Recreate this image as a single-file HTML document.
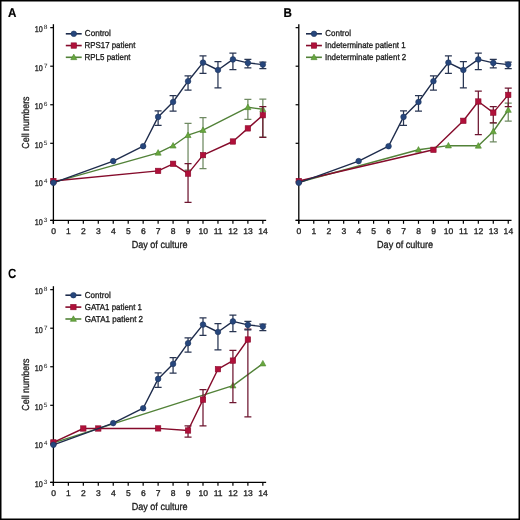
<!DOCTYPE html><html><head><meta charset="utf-8"><style>html,body{margin:0;padding:0;background:#fff}svg{display:block;text-rendering:geometricPrecision;will-change:transform}text:not([font-weight]){stroke:#1a1a1a;stroke-width:0.3px}</style></head><body>
<svg width="520" height="520" viewBox="0 0 520 520">
<rect x="0" y="0" width="520" height="520" fill="#fff"/>
<text x="7.90" y="16.70" font-size="12.6" font-weight="bold" textLength="8.41" lengthAdjust="spacingAndGlyphs" fill="#000" font-family="Liberation Sans, sans-serif" stroke="#000" stroke-width="0.2">A</text>
<text x="283.43" y="16.60" font-size="12.6" font-weight="bold" textLength="8.41" lengthAdjust="spacingAndGlyphs" fill="#000" font-family="Liberation Sans, sans-serif" stroke="#000" stroke-width="0.2">B</text>
<text x="7.92" y="277.60" font-size="13.4" font-weight="bold" textLength="8.31" lengthAdjust="spacingAndGlyphs" fill="#000" font-family="Liberation Sans, sans-serif">C</text>
<path d="M53.40 24.20V223.80" stroke="#000" stroke-width="1.3"/>
<path d="M50.20 220.40H266.14" stroke="#000" stroke-width="1.3"/>
<path d="M50.20 220.40H53.40" stroke="#000" stroke-width="1.2"/>
<text x="34.75" y="224.91" font-size="8.4" textLength="8.02" lengthAdjust="spacingAndGlyphs" fill="#1a1a1a" font-family="Liberation Sans, sans-serif">10</text>
<text x="43.85" y="221.82" font-size="6.2" textLength="3.64" lengthAdjust="spacingAndGlyphs" fill="#1a1a1a" font-family="Liberation Sans, sans-serif" style="stroke:none">3</text>
<path d="M50.20 181.85H53.40" stroke="#000" stroke-width="1.2"/>
<text x="34.75" y="186.36" font-size="8.4" textLength="8.02" lengthAdjust="spacingAndGlyphs" fill="#1a1a1a" font-family="Liberation Sans, sans-serif">10</text>
<text x="43.96" y="183.27" font-size="6.2" textLength="3.42" lengthAdjust="spacingAndGlyphs" fill="#1a1a1a" font-family="Liberation Sans, sans-serif" style="stroke:none">4</text>
<path d="M50.20 143.30H53.40" stroke="#000" stroke-width="1.2"/>
<text x="34.75" y="147.81" font-size="8.4" textLength="8.02" lengthAdjust="spacingAndGlyphs" fill="#1a1a1a" font-family="Liberation Sans, sans-serif">10</text>
<text x="43.84" y="144.72" font-size="6.2" textLength="3.64" lengthAdjust="spacingAndGlyphs" fill="#1a1a1a" font-family="Liberation Sans, sans-serif" style="stroke:none">5</text>
<path d="M50.20 104.75H53.40" stroke="#000" stroke-width="1.2"/>
<text x="34.75" y="109.26" font-size="8.4" textLength="8.02" lengthAdjust="spacingAndGlyphs" fill="#1a1a1a" font-family="Liberation Sans, sans-serif">10</text>
<text x="43.76" y="106.17" font-size="6.2" textLength="3.73" lengthAdjust="spacingAndGlyphs" fill="#1a1a1a" font-family="Liberation Sans, sans-serif" style="stroke:none">6</text>
<path d="M50.20 66.20H53.40" stroke="#000" stroke-width="1.2"/>
<text x="34.75" y="70.71" font-size="8.4" textLength="8.02" lengthAdjust="spacingAndGlyphs" fill="#1a1a1a" font-family="Liberation Sans, sans-serif">10</text>
<text x="43.74" y="67.62" font-size="6.2" textLength="3.80" lengthAdjust="spacingAndGlyphs" fill="#1a1a1a" font-family="Liberation Sans, sans-serif" style="stroke:none">7</text>
<path d="M50.20 27.65H53.40" stroke="#000" stroke-width="1.2"/>
<text x="34.75" y="32.16" font-size="8.4" textLength="8.02" lengthAdjust="spacingAndGlyphs" fill="#1a1a1a" font-family="Liberation Sans, sans-serif">10</text>
<text x="43.81" y="29.07" font-size="6.2" textLength="3.68" lengthAdjust="spacingAndGlyphs" fill="#1a1a1a" font-family="Liberation Sans, sans-serif" style="stroke:none">8</text>
<text x="51.17" y="234.07" font-size="8.3" textLength="4.75" lengthAdjust="spacingAndGlyphs" fill="#1a1a1a" font-family="Liberation Sans, sans-serif">0</text>
<path d="M53.40 220.40V223.80" stroke="#000" stroke-width="1.2"/>
<text x="66.13" y="234.07" font-size="8.3" textLength="4.75" lengthAdjust="spacingAndGlyphs" fill="#1a1a1a" font-family="Liberation Sans, sans-serif">1</text>
<path d="M68.36 220.40V223.80" stroke="#000" stroke-width="1.2"/>
<text x="81.09" y="234.07" font-size="8.3" textLength="4.75" lengthAdjust="spacingAndGlyphs" fill="#1a1a1a" font-family="Liberation Sans, sans-serif">2</text>
<path d="M83.32 220.40V223.80" stroke="#000" stroke-width="1.2"/>
<text x="96.05" y="234.07" font-size="8.3" textLength="4.75" lengthAdjust="spacingAndGlyphs" fill="#1a1a1a" font-family="Liberation Sans, sans-serif">3</text>
<path d="M98.28 220.40V223.80" stroke="#000" stroke-width="1.2"/>
<text x="111.01" y="234.07" font-size="8.3" textLength="4.75" lengthAdjust="spacingAndGlyphs" fill="#1a1a1a" font-family="Liberation Sans, sans-serif">4</text>
<path d="M113.24 220.40V223.80" stroke="#000" stroke-width="1.2"/>
<text x="125.97" y="234.07" font-size="8.3" textLength="4.75" lengthAdjust="spacingAndGlyphs" fill="#1a1a1a" font-family="Liberation Sans, sans-serif">5</text>
<path d="M128.20 220.40V223.80" stroke="#000" stroke-width="1.2"/>
<text x="140.93" y="234.07" font-size="8.3" textLength="4.75" lengthAdjust="spacingAndGlyphs" fill="#1a1a1a" font-family="Liberation Sans, sans-serif">6</text>
<path d="M143.16 220.40V223.80" stroke="#000" stroke-width="1.2"/>
<text x="155.89" y="234.07" font-size="8.3" textLength="4.75" lengthAdjust="spacingAndGlyphs" fill="#1a1a1a" font-family="Liberation Sans, sans-serif">7</text>
<path d="M158.12 220.40V223.80" stroke="#000" stroke-width="1.2"/>
<text x="170.85" y="234.07" font-size="8.3" textLength="4.75" lengthAdjust="spacingAndGlyphs" fill="#1a1a1a" font-family="Liberation Sans, sans-serif">8</text>
<path d="M173.08 220.40V223.80" stroke="#000" stroke-width="1.2"/>
<text x="185.81" y="234.07" font-size="8.3" textLength="4.75" lengthAdjust="spacingAndGlyphs" fill="#1a1a1a" font-family="Liberation Sans, sans-serif">9</text>
<path d="M188.04 220.40V223.80" stroke="#000" stroke-width="1.2"/>
<text x="198.40" y="234.07" font-size="8.3" textLength="9.51" lengthAdjust="spacingAndGlyphs" fill="#1a1a1a" font-family="Liberation Sans, sans-serif">10</text>
<path d="M203.00 220.40V223.80" stroke="#000" stroke-width="1.2"/>
<text x="213.67" y="234.07" font-size="8.3" textLength="8.87" lengthAdjust="spacingAndGlyphs" fill="#1a1a1a" font-family="Liberation Sans, sans-serif">11</text>
<path d="M217.96 220.40V223.80" stroke="#000" stroke-width="1.2"/>
<text x="228.32" y="234.07" font-size="8.3" textLength="9.51" lengthAdjust="spacingAndGlyphs" fill="#1a1a1a" font-family="Liberation Sans, sans-serif">12</text>
<path d="M232.92 220.40V223.80" stroke="#000" stroke-width="1.2"/>
<text x="243.28" y="234.07" font-size="8.3" textLength="9.51" lengthAdjust="spacingAndGlyphs" fill="#1a1a1a" font-family="Liberation Sans, sans-serif">13</text>
<path d="M247.88 220.40V223.80" stroke="#000" stroke-width="1.2"/>
<text x="258.24" y="234.07" font-size="8.3" textLength="9.51" lengthAdjust="spacingAndGlyphs" fill="#1a1a1a" font-family="Liberation Sans, sans-serif">14</text>
<path d="M262.84 220.40V223.80" stroke="#000" stroke-width="1.2"/>
<text x="131.66" y="248.40" font-size="10.2" textLength="55.94" lengthAdjust="spacingAndGlyphs" fill="#1a1a1a" font-family="Liberation Sans, sans-serif">Day of culture</text>
<text transform="translate(29.3,148.20) rotate(-90)" x="-0.44" y="0" font-size="10.2" textLength="52.15" lengthAdjust="spacingAndGlyphs" fill="#1a1a1a" font-family="Liberation Sans, sans-serif">Cell numbers</text>
<path d="M298.80 24.20V223.80" stroke="#000" stroke-width="1.3"/>
<path d="M295.60 220.40H511.54" stroke="#000" stroke-width="1.3"/>
<path d="M295.60 220.40H298.80" stroke="#000" stroke-width="1.2"/>
<path d="M295.60 181.85H298.80" stroke="#000" stroke-width="1.2"/>
<path d="M295.60 143.30H298.80" stroke="#000" stroke-width="1.2"/>
<path d="M295.60 104.75H298.80" stroke="#000" stroke-width="1.2"/>
<path d="M295.60 66.20H298.80" stroke="#000" stroke-width="1.2"/>
<path d="M295.60 27.65H298.80" stroke="#000" stroke-width="1.2"/>
<text x="296.57" y="234.07" font-size="8.3" textLength="4.75" lengthAdjust="spacingAndGlyphs" fill="#1a1a1a" font-family="Liberation Sans, sans-serif">0</text>
<path d="M298.80 220.40V223.80" stroke="#000" stroke-width="1.2"/>
<text x="311.53" y="234.07" font-size="8.3" textLength="4.75" lengthAdjust="spacingAndGlyphs" fill="#1a1a1a" font-family="Liberation Sans, sans-serif">1</text>
<path d="M313.76 220.40V223.80" stroke="#000" stroke-width="1.2"/>
<text x="326.49" y="234.07" font-size="8.3" textLength="4.75" lengthAdjust="spacingAndGlyphs" fill="#1a1a1a" font-family="Liberation Sans, sans-serif">2</text>
<path d="M328.72 220.40V223.80" stroke="#000" stroke-width="1.2"/>
<text x="341.45" y="234.07" font-size="8.3" textLength="4.75" lengthAdjust="spacingAndGlyphs" fill="#1a1a1a" font-family="Liberation Sans, sans-serif">3</text>
<path d="M343.68 220.40V223.80" stroke="#000" stroke-width="1.2"/>
<text x="356.41" y="234.07" font-size="8.3" textLength="4.75" lengthAdjust="spacingAndGlyphs" fill="#1a1a1a" font-family="Liberation Sans, sans-serif">4</text>
<path d="M358.64 220.40V223.80" stroke="#000" stroke-width="1.2"/>
<text x="371.37" y="234.07" font-size="8.3" textLength="4.75" lengthAdjust="spacingAndGlyphs" fill="#1a1a1a" font-family="Liberation Sans, sans-serif">5</text>
<path d="M373.60 220.40V223.80" stroke="#000" stroke-width="1.2"/>
<text x="386.33" y="234.07" font-size="8.3" textLength="4.75" lengthAdjust="spacingAndGlyphs" fill="#1a1a1a" font-family="Liberation Sans, sans-serif">6</text>
<path d="M388.56 220.40V223.80" stroke="#000" stroke-width="1.2"/>
<text x="401.29" y="234.07" font-size="8.3" textLength="4.75" lengthAdjust="spacingAndGlyphs" fill="#1a1a1a" font-family="Liberation Sans, sans-serif">7</text>
<path d="M403.52 220.40V223.80" stroke="#000" stroke-width="1.2"/>
<text x="416.25" y="234.07" font-size="8.3" textLength="4.75" lengthAdjust="spacingAndGlyphs" fill="#1a1a1a" font-family="Liberation Sans, sans-serif">8</text>
<path d="M418.48 220.40V223.80" stroke="#000" stroke-width="1.2"/>
<text x="431.21" y="234.07" font-size="8.3" textLength="4.75" lengthAdjust="spacingAndGlyphs" fill="#1a1a1a" font-family="Liberation Sans, sans-serif">9</text>
<path d="M433.44 220.40V223.80" stroke="#000" stroke-width="1.2"/>
<text x="443.80" y="234.07" font-size="8.3" textLength="9.51" lengthAdjust="spacingAndGlyphs" fill="#1a1a1a" font-family="Liberation Sans, sans-serif">10</text>
<path d="M448.40 220.40V223.80" stroke="#000" stroke-width="1.2"/>
<text x="459.07" y="234.07" font-size="8.3" textLength="8.87" lengthAdjust="spacingAndGlyphs" fill="#1a1a1a" font-family="Liberation Sans, sans-serif">11</text>
<path d="M463.36 220.40V223.80" stroke="#000" stroke-width="1.2"/>
<text x="473.72" y="234.07" font-size="8.3" textLength="9.51" lengthAdjust="spacingAndGlyphs" fill="#1a1a1a" font-family="Liberation Sans, sans-serif">12</text>
<path d="M478.32 220.40V223.80" stroke="#000" stroke-width="1.2"/>
<text x="488.68" y="234.07" font-size="8.3" textLength="9.51" lengthAdjust="spacingAndGlyphs" fill="#1a1a1a" font-family="Liberation Sans, sans-serif">13</text>
<path d="M493.28 220.40V223.80" stroke="#000" stroke-width="1.2"/>
<text x="503.64" y="234.07" font-size="8.3" textLength="9.51" lengthAdjust="spacingAndGlyphs" fill="#1a1a1a" font-family="Liberation Sans, sans-serif">14</text>
<path d="M508.24 220.40V223.80" stroke="#000" stroke-width="1.2"/>
<text x="377.06" y="248.40" font-size="10.2" textLength="55.94" lengthAdjust="spacingAndGlyphs" fill="#1a1a1a" font-family="Liberation Sans, sans-serif">Day of culture</text>
<path d="M53.40 286.20V485.80" stroke="#000" stroke-width="1.3"/>
<path d="M50.20 482.40H266.14" stroke="#000" stroke-width="1.3"/>
<path d="M50.20 482.40H53.40" stroke="#000" stroke-width="1.2"/>
<text x="34.75" y="486.91" font-size="8.4" textLength="8.02" lengthAdjust="spacingAndGlyphs" fill="#1a1a1a" font-family="Liberation Sans, sans-serif">10</text>
<text x="43.85" y="483.82" font-size="6.2" textLength="3.64" lengthAdjust="spacingAndGlyphs" fill="#1a1a1a" font-family="Liberation Sans, sans-serif" style="stroke:none">3</text>
<path d="M50.20 443.85H53.40" stroke="#000" stroke-width="1.2"/>
<text x="34.75" y="448.36" font-size="8.4" textLength="8.02" lengthAdjust="spacingAndGlyphs" fill="#1a1a1a" font-family="Liberation Sans, sans-serif">10</text>
<text x="43.96" y="445.27" font-size="6.2" textLength="3.42" lengthAdjust="spacingAndGlyphs" fill="#1a1a1a" font-family="Liberation Sans, sans-serif" style="stroke:none">4</text>
<path d="M50.20 405.30H53.40" stroke="#000" stroke-width="1.2"/>
<text x="34.75" y="409.81" font-size="8.4" textLength="8.02" lengthAdjust="spacingAndGlyphs" fill="#1a1a1a" font-family="Liberation Sans, sans-serif">10</text>
<text x="43.84" y="406.72" font-size="6.2" textLength="3.64" lengthAdjust="spacingAndGlyphs" fill="#1a1a1a" font-family="Liberation Sans, sans-serif" style="stroke:none">5</text>
<path d="M50.20 366.75H53.40" stroke="#000" stroke-width="1.2"/>
<text x="34.75" y="371.26" font-size="8.4" textLength="8.02" lengthAdjust="spacingAndGlyphs" fill="#1a1a1a" font-family="Liberation Sans, sans-serif">10</text>
<text x="43.76" y="368.17" font-size="6.2" textLength="3.73" lengthAdjust="spacingAndGlyphs" fill="#1a1a1a" font-family="Liberation Sans, sans-serif" style="stroke:none">6</text>
<path d="M50.20 328.20H53.40" stroke="#000" stroke-width="1.2"/>
<text x="34.75" y="332.71" font-size="8.4" textLength="8.02" lengthAdjust="spacingAndGlyphs" fill="#1a1a1a" font-family="Liberation Sans, sans-serif">10</text>
<text x="43.74" y="329.62" font-size="6.2" textLength="3.80" lengthAdjust="spacingAndGlyphs" fill="#1a1a1a" font-family="Liberation Sans, sans-serif" style="stroke:none">7</text>
<path d="M50.20 289.65H53.40" stroke="#000" stroke-width="1.2"/>
<text x="34.75" y="294.16" font-size="8.4" textLength="8.02" lengthAdjust="spacingAndGlyphs" fill="#1a1a1a" font-family="Liberation Sans, sans-serif">10</text>
<text x="43.81" y="291.07" font-size="6.2" textLength="3.68" lengthAdjust="spacingAndGlyphs" fill="#1a1a1a" font-family="Liberation Sans, sans-serif" style="stroke:none">8</text>
<text x="51.17" y="496.07" font-size="8.3" textLength="4.75" lengthAdjust="spacingAndGlyphs" fill="#1a1a1a" font-family="Liberation Sans, sans-serif">0</text>
<path d="M53.40 482.40V485.80" stroke="#000" stroke-width="1.2"/>
<text x="66.13" y="496.07" font-size="8.3" textLength="4.75" lengthAdjust="spacingAndGlyphs" fill="#1a1a1a" font-family="Liberation Sans, sans-serif">1</text>
<path d="M68.36 482.40V485.80" stroke="#000" stroke-width="1.2"/>
<text x="81.09" y="496.07" font-size="8.3" textLength="4.75" lengthAdjust="spacingAndGlyphs" fill="#1a1a1a" font-family="Liberation Sans, sans-serif">2</text>
<path d="M83.32 482.40V485.80" stroke="#000" stroke-width="1.2"/>
<text x="96.05" y="496.07" font-size="8.3" textLength="4.75" lengthAdjust="spacingAndGlyphs" fill="#1a1a1a" font-family="Liberation Sans, sans-serif">3</text>
<path d="M98.28 482.40V485.80" stroke="#000" stroke-width="1.2"/>
<text x="111.01" y="496.07" font-size="8.3" textLength="4.75" lengthAdjust="spacingAndGlyphs" fill="#1a1a1a" font-family="Liberation Sans, sans-serif">4</text>
<path d="M113.24 482.40V485.80" stroke="#000" stroke-width="1.2"/>
<text x="125.97" y="496.07" font-size="8.3" textLength="4.75" lengthAdjust="spacingAndGlyphs" fill="#1a1a1a" font-family="Liberation Sans, sans-serif">5</text>
<path d="M128.20 482.40V485.80" stroke="#000" stroke-width="1.2"/>
<text x="140.93" y="496.07" font-size="8.3" textLength="4.75" lengthAdjust="spacingAndGlyphs" fill="#1a1a1a" font-family="Liberation Sans, sans-serif">6</text>
<path d="M143.16 482.40V485.80" stroke="#000" stroke-width="1.2"/>
<text x="155.89" y="496.07" font-size="8.3" textLength="4.75" lengthAdjust="spacingAndGlyphs" fill="#1a1a1a" font-family="Liberation Sans, sans-serif">7</text>
<path d="M158.12 482.40V485.80" stroke="#000" stroke-width="1.2"/>
<text x="170.85" y="496.07" font-size="8.3" textLength="4.75" lengthAdjust="spacingAndGlyphs" fill="#1a1a1a" font-family="Liberation Sans, sans-serif">8</text>
<path d="M173.08 482.40V485.80" stroke="#000" stroke-width="1.2"/>
<text x="185.81" y="496.07" font-size="8.3" textLength="4.75" lengthAdjust="spacingAndGlyphs" fill="#1a1a1a" font-family="Liberation Sans, sans-serif">9</text>
<path d="M188.04 482.40V485.80" stroke="#000" stroke-width="1.2"/>
<text x="198.40" y="496.07" font-size="8.3" textLength="9.51" lengthAdjust="spacingAndGlyphs" fill="#1a1a1a" font-family="Liberation Sans, sans-serif">10</text>
<path d="M203.00 482.40V485.80" stroke="#000" stroke-width="1.2"/>
<text x="213.67" y="496.07" font-size="8.3" textLength="8.87" lengthAdjust="spacingAndGlyphs" fill="#1a1a1a" font-family="Liberation Sans, sans-serif">11</text>
<path d="M217.96 482.40V485.80" stroke="#000" stroke-width="1.2"/>
<text x="228.32" y="496.07" font-size="8.3" textLength="9.51" lengthAdjust="spacingAndGlyphs" fill="#1a1a1a" font-family="Liberation Sans, sans-serif">12</text>
<path d="M232.92 482.40V485.80" stroke="#000" stroke-width="1.2"/>
<text x="243.28" y="496.07" font-size="8.3" textLength="9.51" lengthAdjust="spacingAndGlyphs" fill="#1a1a1a" font-family="Liberation Sans, sans-serif">13</text>
<path d="M247.88 482.40V485.80" stroke="#000" stroke-width="1.2"/>
<text x="258.24" y="496.07" font-size="8.3" textLength="9.51" lengthAdjust="spacingAndGlyphs" fill="#1a1a1a" font-family="Liberation Sans, sans-serif">14</text>
<path d="M262.84 482.40V485.80" stroke="#000" stroke-width="1.2"/>
<text x="131.66" y="510.40" font-size="10.2" textLength="55.94" lengthAdjust="spacingAndGlyphs" fill="#1a1a1a" font-family="Liberation Sans, sans-serif">Day of culture</text>
<text transform="translate(29.3,410.20) rotate(-90)" x="-0.44" y="0" font-size="10.2" textLength="52.15" lengthAdjust="spacingAndGlyphs" fill="#1a1a1a" font-family="Liberation Sans, sans-serif">Cell numbers</text>
<path d="M65.80 33.80h15.9" stroke="#1e2c4c" stroke-width="1.6"/>
<circle cx="73.80" cy="33.80" r="2.8" fill="#26467c" stroke="#1f3560" stroke-width="0.6"/>
<text x="84.79" y="36.38" font-size="8.6" textLength="26.14" lengthAdjust="spacingAndGlyphs" fill="#1a1a1a" font-family="Liberation Sans, sans-serif">Control</text>
<path d="M65.80 45.55h15.9" stroke="#850b2b" stroke-width="1.6"/>
<rect x="71.10" y="42.85" width="5.4" height="5.4" fill="#b0103a" stroke="#8a0a2c" stroke-width="0.6"/>
<text x="84.55" y="48.13" font-size="8.6" textLength="50.82" lengthAdjust="spacingAndGlyphs" fill="#1a1a1a" font-family="Liberation Sans, sans-serif">RPS17 patient</text>
<path d="M65.80 57.30h15.9" stroke="#528238" stroke-width="1.6"/>
<path d="M73.80 54.10L76.85 59.65L70.75 59.65Z" fill="#68a63e" stroke="#4f8a30" stroke-width="0.6" stroke-linejoin="miter"/>
<text x="84.55" y="59.88" font-size="8.6" textLength="46.01" lengthAdjust="spacingAndGlyphs" fill="#1a1a1a" font-family="Liberation Sans, sans-serif">RPL5 patient</text>
<path d="M306.00 33.80h15.9" stroke="#1e2c4c" stroke-width="1.6"/>
<circle cx="314.00" cy="33.80" r="2.8" fill="#26467c" stroke="#1f3560" stroke-width="0.6"/>
<text x="325.30" y="36.38" font-size="8.6" textLength="25.62" lengthAdjust="spacingAndGlyphs" fill="#1a1a1a" font-family="Liberation Sans, sans-serif">Control</text>
<path d="M306.00 45.55h15.9" stroke="#850b2b" stroke-width="1.6"/>
<rect x="311.30" y="42.85" width="5.4" height="5.4" fill="#b0103a" stroke="#8a0a2c" stroke-width="0.6"/>
<text x="324.97" y="48.13" font-size="8.6" textLength="80.61" lengthAdjust="spacingAndGlyphs" fill="#1a1a1a" font-family="Liberation Sans, sans-serif">Indeterminate patient 1</text>
<path d="M306.00 57.30h15.9" stroke="#528238" stroke-width="1.6"/>
<path d="M314.00 54.10L317.05 59.65L310.95 59.65Z" fill="#68a63e" stroke="#4f8a30" stroke-width="0.6" stroke-linejoin="miter"/>
<text x="324.97" y="59.88" font-size="8.6" textLength="81.24" lengthAdjust="spacingAndGlyphs" fill="#1a1a1a" font-family="Liberation Sans, sans-serif">Indeterminate patient 2</text>
<path d="M65.40 295.20h15.9" stroke="#1e2c4c" stroke-width="1.6"/>
<circle cx="73.40" cy="295.20" r="2.8" fill="#26467c" stroke="#1f3560" stroke-width="0.6"/>
<text x="84.80" y="297.78" font-size="8.6" textLength="25.93" lengthAdjust="spacingAndGlyphs" fill="#1a1a1a" font-family="Liberation Sans, sans-serif">Control</text>
<path d="M65.40 307.10h15.9" stroke="#850b2b" stroke-width="1.6"/>
<rect x="70.70" y="304.40" width="5.4" height="5.4" fill="#b0103a" stroke="#8a0a2c" stroke-width="0.6"/>
<text x="84.81" y="309.68" font-size="8.6" textLength="57.18" lengthAdjust="spacingAndGlyphs" fill="#1a1a1a" font-family="Liberation Sans, sans-serif">GATA1 patient 1</text>
<path d="M65.40 319.00h15.9" stroke="#528238" stroke-width="1.6"/>
<path d="M73.40 315.80L76.45 321.35L70.35 321.35Z" fill="#68a63e" stroke="#4f8a30" stroke-width="0.6" stroke-linejoin="miter"/>
<text x="84.80" y="321.58" font-size="8.6" textLength="58.31" lengthAdjust="spacingAndGlyphs" fill="#1a1a1a" font-family="Liberation Sans, sans-serif">GATA1 patient 2</text>
<path d="M188.04 123.40V170.00M184.54 123.40h7M184.54 170.00h7" stroke="#6f8a62" stroke-width="1.25" fill="none"/>
<path d="M203.00 117.60V168.70M199.50 117.60h7M199.50 168.70h7" stroke="#6f8a62" stroke-width="1.25" fill="none"/>
<path d="M247.88 99.30V119.40M244.38 99.30h7M244.38 119.40h7" stroke="#6f8a62" stroke-width="1.25" fill="none"/>
<path d="M262.84 99.00V137.00M259.34 99.00h7M259.34 137.00h7" stroke="#6f8a62" stroke-width="1.25" fill="none"/>
<polyline points="53.40,182.30 158.12,152.80 173.08,145.70 188.04,135.20 203.00,130.10 247.88,107.30 262.84,109.30" fill="none" stroke="#528238" stroke-width="1.4" stroke-linejoin="round"/>
<path d="M158.12 149.60L161.17 155.15L155.07 155.15Z" fill="#68a63e" stroke="#4f8a30" stroke-width="0.6" stroke-linejoin="miter"/>
<path d="M173.08 142.50L176.13 148.05L170.03 148.05Z" fill="#68a63e" stroke="#4f8a30" stroke-width="0.6" stroke-linejoin="miter"/>
<path d="M188.04 132.00L191.09 137.55L184.99 137.55Z" fill="#68a63e" stroke="#4f8a30" stroke-width="0.6" stroke-linejoin="miter"/>
<path d="M203.00 126.90L206.05 132.45L199.95 132.45Z" fill="#68a63e" stroke="#4f8a30" stroke-width="0.6" stroke-linejoin="miter"/>
<path d="M247.88 104.10L250.93 109.65L244.83 109.65Z" fill="#68a63e" stroke="#4f8a30" stroke-width="0.6" stroke-linejoin="miter"/>
<path d="M262.84 106.10L265.89 111.65L259.79 111.65Z" fill="#68a63e" stroke="#4f8a30" stroke-width="0.6" stroke-linejoin="miter"/>
<path d="M188.04 163.50V202.30M184.54 163.50h7M184.54 202.30h7" stroke="#6e1630" stroke-width="1.25" fill="none"/>
<path d="M262.84 106.60V137.30M259.34 106.60h7M259.34 137.30h7" stroke="#6e1630" stroke-width="1.25" fill="none"/>
<polyline points="53.40,181.00 158.12,170.90 173.08,163.80 188.04,173.60 203.00,155.10 232.92,141.50 247.88,128.40 262.84,115.20" fill="none" stroke="#850b2b" stroke-width="1.4" stroke-linejoin="round"/>
<rect x="50.70" y="178.30" width="5.4" height="5.4" fill="#b0103a" stroke="#8a0a2c" stroke-width="0.6"/>
<rect x="155.42" y="168.20" width="5.4" height="5.4" fill="#b0103a" stroke="#8a0a2c" stroke-width="0.6"/>
<rect x="170.38" y="161.10" width="5.4" height="5.4" fill="#b0103a" stroke="#8a0a2c" stroke-width="0.6"/>
<rect x="185.34" y="170.90" width="5.4" height="5.4" fill="#b0103a" stroke="#8a0a2c" stroke-width="0.6"/>
<rect x="200.30" y="152.40" width="5.4" height="5.4" fill="#b0103a" stroke="#8a0a2c" stroke-width="0.6"/>
<rect x="230.22" y="138.80" width="5.4" height="5.4" fill="#b0103a" stroke="#8a0a2c" stroke-width="0.6"/>
<rect x="245.18" y="125.70" width="5.4" height="5.4" fill="#b0103a" stroke="#8a0a2c" stroke-width="0.6"/>
<rect x="260.14" y="112.50" width="5.4" height="5.4" fill="#b0103a" stroke="#8a0a2c" stroke-width="0.6"/>
<path d="M158.12 110.80V125.40M154.62 110.80h7M154.62 125.40h7" stroke="#283552" stroke-width="1.25" fill="none"/>
<path d="M173.08 95.50V111.20M169.58 95.50h7M169.58 111.20h7" stroke="#283552" stroke-width="1.25" fill="none"/>
<path d="M188.04 75.80V90.00M184.54 75.80h7M184.54 90.00h7" stroke="#283552" stroke-width="1.25" fill="none"/>
<path d="M203.00 55.90V73.30M199.50 55.90h7M199.50 73.30h7" stroke="#283552" stroke-width="1.25" fill="none"/>
<path d="M217.96 61.50V87.80M214.46 61.50h7M214.46 87.80h7" stroke="#283552" stroke-width="1.25" fill="none"/>
<path d="M232.92 53.10V69.60M229.42 53.10h7M229.42 69.60h7" stroke="#283552" stroke-width="1.25" fill="none"/>
<path d="M247.88 59.30V67.80M244.38 59.30h7M244.38 67.80h7" stroke="#283552" stroke-width="1.25" fill="none"/>
<path d="M262.84 62.00V68.70M259.34 62.00h7M259.34 68.70h7" stroke="#283552" stroke-width="1.25" fill="none"/>
<polyline points="53.40,182.80 113.24,161.10 143.16,146.20 158.12,116.90 173.08,102.00 188.04,81.20 203.00,62.60 217.96,70.00 232.92,59.40 247.88,62.90 262.84,64.60" fill="none" stroke="#1e2c4c" stroke-width="1.4" stroke-linejoin="round"/>
<circle cx="53.40" cy="182.80" r="2.8" fill="#26467c" stroke="#1f3560" stroke-width="0.6"/>
<circle cx="113.24" cy="161.10" r="2.8" fill="#26467c" stroke="#1f3560" stroke-width="0.6"/>
<circle cx="143.16" cy="146.20" r="2.8" fill="#26467c" stroke="#1f3560" stroke-width="0.6"/>
<circle cx="158.12" cy="116.90" r="2.8" fill="#26467c" stroke="#1f3560" stroke-width="0.6"/>
<circle cx="173.08" cy="102.00" r="2.8" fill="#26467c" stroke="#1f3560" stroke-width="0.6"/>
<circle cx="188.04" cy="81.20" r="2.8" fill="#26467c" stroke="#1f3560" stroke-width="0.6"/>
<circle cx="203.00" cy="62.60" r="2.8" fill="#26467c" stroke="#1f3560" stroke-width="0.6"/>
<circle cx="217.96" cy="70.00" r="2.8" fill="#26467c" stroke="#1f3560" stroke-width="0.6"/>
<circle cx="232.92" cy="59.40" r="2.8" fill="#26467c" stroke="#1f3560" stroke-width="0.6"/>
<circle cx="247.88" cy="62.90" r="2.8" fill="#26467c" stroke="#1f3560" stroke-width="0.6"/>
<circle cx="262.84" cy="64.60" r="2.8" fill="#26467c" stroke="#1f3560" stroke-width="0.6"/>
<path d="M493.28 122.80V141.80M489.78 122.80h7M489.78 141.80h7" stroke="#6f8a62" stroke-width="1.25" fill="none"/>
<path d="M508.24 103.00V121.20M504.74 103.00h7M504.74 121.20h7" stroke="#6f8a62" stroke-width="1.25" fill="none"/>
<polyline points="298.80,182.30 418.48,149.80 448.40,145.60 478.32,145.80 493.28,131.50 508.24,110.00" fill="none" stroke="#528238" stroke-width="1.4" stroke-linejoin="round"/>
<path d="M418.48 146.60L421.53 152.15L415.43 152.15Z" fill="#68a63e" stroke="#4f8a30" stroke-width="0.6" stroke-linejoin="miter"/>
<path d="M448.40 142.40L451.45 147.95L445.35 147.95Z" fill="#68a63e" stroke="#4f8a30" stroke-width="0.6" stroke-linejoin="miter"/>
<path d="M478.32 142.60L481.37 148.15L475.27 148.15Z" fill="#68a63e" stroke="#4f8a30" stroke-width="0.6" stroke-linejoin="miter"/>
<path d="M493.28 128.30L496.33 133.85L490.23 133.85Z" fill="#68a63e" stroke="#4f8a30" stroke-width="0.6" stroke-linejoin="miter"/>
<path d="M508.24 106.80L511.29 112.35L505.19 112.35Z" fill="#68a63e" stroke="#4f8a30" stroke-width="0.6" stroke-linejoin="miter"/>
<path d="M478.32 91.20V134.60M474.82 91.20h7M474.82 134.60h7" stroke="#6e1630" stroke-width="1.25" fill="none"/>
<path d="M493.28 106.50V122.80M489.78 106.50h7M489.78 122.80h7" stroke="#6e1630" stroke-width="1.25" fill="none"/>
<path d="M508.24 88.10V106.50M504.74 88.10h7M504.74 106.50h7" stroke="#6e1630" stroke-width="1.25" fill="none"/>
<polyline points="298.80,181.00 433.44,149.80 463.36,120.80 478.32,101.50 493.28,112.60 508.24,94.90" fill="none" stroke="#850b2b" stroke-width="1.4" stroke-linejoin="round"/>
<rect x="296.10" y="178.30" width="5.4" height="5.4" fill="#b0103a" stroke="#8a0a2c" stroke-width="0.6"/>
<rect x="430.74" y="147.10" width="5.4" height="5.4" fill="#b0103a" stroke="#8a0a2c" stroke-width="0.6"/>
<rect x="460.66" y="118.10" width="5.4" height="5.4" fill="#b0103a" stroke="#8a0a2c" stroke-width="0.6"/>
<rect x="475.62" y="98.80" width="5.4" height="5.4" fill="#b0103a" stroke="#8a0a2c" stroke-width="0.6"/>
<rect x="490.58" y="109.90" width="5.4" height="5.4" fill="#b0103a" stroke="#8a0a2c" stroke-width="0.6"/>
<rect x="505.54" y="92.20" width="5.4" height="5.4" fill="#b0103a" stroke="#8a0a2c" stroke-width="0.6"/>
<path d="M403.52 110.80V125.40M400.02 110.80h7M400.02 125.40h7" stroke="#283552" stroke-width="1.25" fill="none"/>
<path d="M418.48 95.50V111.20M414.98 95.50h7M414.98 111.20h7" stroke="#283552" stroke-width="1.25" fill="none"/>
<path d="M433.44 75.80V90.00M429.94 75.80h7M429.94 90.00h7" stroke="#283552" stroke-width="1.25" fill="none"/>
<path d="M448.40 55.90V73.30M444.90 55.90h7M444.90 73.30h7" stroke="#283552" stroke-width="1.25" fill="none"/>
<path d="M463.36 61.50V87.80M459.86 61.50h7M459.86 87.80h7" stroke="#283552" stroke-width="1.25" fill="none"/>
<path d="M478.32 53.10V69.60M474.82 53.10h7M474.82 69.60h7" stroke="#283552" stroke-width="1.25" fill="none"/>
<path d="M493.28 59.30V67.80M489.78 59.30h7M489.78 67.80h7" stroke="#283552" stroke-width="1.25" fill="none"/>
<path d="M508.24 62.00V68.70M504.74 62.00h7M504.74 68.70h7" stroke="#283552" stroke-width="1.25" fill="none"/>
<polyline points="298.80,182.80 358.64,161.10 388.56,146.20 403.52,116.90 418.48,102.00 433.44,81.20 448.40,62.60 463.36,70.00 478.32,59.40 493.28,62.90 508.24,64.60" fill="none" stroke="#1e2c4c" stroke-width="1.4" stroke-linejoin="round"/>
<circle cx="298.80" cy="182.80" r="2.8" fill="#26467c" stroke="#1f3560" stroke-width="0.6"/>
<circle cx="358.64" cy="161.10" r="2.8" fill="#26467c" stroke="#1f3560" stroke-width="0.6"/>
<circle cx="388.56" cy="146.20" r="2.8" fill="#26467c" stroke="#1f3560" stroke-width="0.6"/>
<circle cx="403.52" cy="116.90" r="2.8" fill="#26467c" stroke="#1f3560" stroke-width="0.6"/>
<circle cx="418.48" cy="102.00" r="2.8" fill="#26467c" stroke="#1f3560" stroke-width="0.6"/>
<circle cx="433.44" cy="81.20" r="2.8" fill="#26467c" stroke="#1f3560" stroke-width="0.6"/>
<circle cx="448.40" cy="62.60" r="2.8" fill="#26467c" stroke="#1f3560" stroke-width="0.6"/>
<circle cx="463.36" cy="70.00" r="2.8" fill="#26467c" stroke="#1f3560" stroke-width="0.6"/>
<circle cx="478.32" cy="59.40" r="2.8" fill="#26467c" stroke="#1f3560" stroke-width="0.6"/>
<circle cx="493.28" cy="62.90" r="2.8" fill="#26467c" stroke="#1f3560" stroke-width="0.6"/>
<circle cx="508.24" cy="64.60" r="2.8" fill="#26467c" stroke="#1f3560" stroke-width="0.6"/>
<polyline points="53.40,442.90 232.92,385.60 262.84,363.60" fill="none" stroke="#528238" stroke-width="1.4" stroke-linejoin="round"/>
<path d="M232.92 382.40L235.97 387.95L229.87 387.95Z" fill="#68a63e" stroke="#4f8a30" stroke-width="0.6" stroke-linejoin="miter"/>
<path d="M262.84 360.40L265.89 365.95L259.79 365.95Z" fill="#68a63e" stroke="#4f8a30" stroke-width="0.6" stroke-linejoin="miter"/>
<path d="M188.04 425.80V437.10M184.54 425.80h7M184.54 437.10h7" stroke="#6e1630" stroke-width="1.25" fill="none"/>
<path d="M203.00 389.50V425.80M199.50 389.50h7M199.50 425.80h7" stroke="#6e1630" stroke-width="1.25" fill="none"/>
<path d="M232.92 350.30V402.60M229.42 350.30h7M229.42 402.60h7" stroke="#6e1630" stroke-width="1.25" fill="none"/>
<path d="M247.88 329.00V416.90M244.38 329.00h7M244.38 416.90h7" stroke="#6e1630" stroke-width="1.25" fill="none"/>
<polyline points="53.40,442.40 83.32,428.50 98.28,428.50 158.12,428.40 188.04,430.50 203.00,399.60 217.96,369.20 232.92,360.60 247.88,339.50" fill="none" stroke="#850b2b" stroke-width="1.4" stroke-linejoin="round"/>
<rect x="50.70" y="439.70" width="5.4" height="5.4" fill="#b0103a" stroke="#8a0a2c" stroke-width="0.6"/>
<rect x="80.62" y="425.80" width="5.4" height="5.4" fill="#b0103a" stroke="#8a0a2c" stroke-width="0.6"/>
<rect x="95.58" y="425.80" width="5.4" height="5.4" fill="#b0103a" stroke="#8a0a2c" stroke-width="0.6"/>
<rect x="155.42" y="425.70" width="5.4" height="5.4" fill="#b0103a" stroke="#8a0a2c" stroke-width="0.6"/>
<rect x="185.34" y="427.80" width="5.4" height="5.4" fill="#b0103a" stroke="#8a0a2c" stroke-width="0.6"/>
<rect x="200.30" y="396.90" width="5.4" height="5.4" fill="#b0103a" stroke="#8a0a2c" stroke-width="0.6"/>
<rect x="215.26" y="366.50" width="5.4" height="5.4" fill="#b0103a" stroke="#8a0a2c" stroke-width="0.6"/>
<rect x="230.22" y="357.90" width="5.4" height="5.4" fill="#b0103a" stroke="#8a0a2c" stroke-width="0.6"/>
<rect x="245.18" y="336.80" width="5.4" height="5.4" fill="#b0103a" stroke="#8a0a2c" stroke-width="0.6"/>
<path d="M158.12 372.80V387.40M154.62 372.80h7M154.62 387.40h7" stroke="#283552" stroke-width="1.25" fill="none"/>
<path d="M173.08 357.50V373.20M169.58 357.50h7M169.58 373.20h7" stroke="#283552" stroke-width="1.25" fill="none"/>
<path d="M188.04 337.80V352.00M184.54 337.80h7M184.54 352.00h7" stroke="#283552" stroke-width="1.25" fill="none"/>
<path d="M203.00 317.90V335.30M199.50 317.90h7M199.50 335.30h7" stroke="#283552" stroke-width="1.25" fill="none"/>
<path d="M217.96 323.50V349.80M214.46 323.50h7M214.46 349.80h7" stroke="#283552" stroke-width="1.25" fill="none"/>
<path d="M232.92 315.10V331.60M229.42 315.10h7M229.42 331.60h7" stroke="#283552" stroke-width="1.25" fill="none"/>
<path d="M247.88 321.30V329.80M244.38 321.30h7M244.38 329.80h7" stroke="#283552" stroke-width="1.25" fill="none"/>
<path d="M262.84 324.00V330.70M259.34 324.00h7M259.34 330.70h7" stroke="#283552" stroke-width="1.25" fill="none"/>
<polyline points="53.40,444.80 113.24,423.10 143.16,408.20 158.12,378.90 173.08,364.00 188.04,343.20 203.00,324.60 217.96,332.00 232.92,321.40 247.88,324.90 262.84,326.60" fill="none" stroke="#1e2c4c" stroke-width="1.4" stroke-linejoin="round"/>
<circle cx="53.40" cy="444.80" r="2.8" fill="#26467c" stroke="#1f3560" stroke-width="0.6"/>
<circle cx="113.24" cy="423.10" r="2.8" fill="#26467c" stroke="#1f3560" stroke-width="0.6"/>
<circle cx="143.16" cy="408.20" r="2.8" fill="#26467c" stroke="#1f3560" stroke-width="0.6"/>
<circle cx="158.12" cy="378.90" r="2.8" fill="#26467c" stroke="#1f3560" stroke-width="0.6"/>
<circle cx="173.08" cy="364.00" r="2.8" fill="#26467c" stroke="#1f3560" stroke-width="0.6"/>
<circle cx="188.04" cy="343.20" r="2.8" fill="#26467c" stroke="#1f3560" stroke-width="0.6"/>
<circle cx="203.00" cy="324.60" r="2.8" fill="#26467c" stroke="#1f3560" stroke-width="0.6"/>
<circle cx="217.96" cy="332.00" r="2.8" fill="#26467c" stroke="#1f3560" stroke-width="0.6"/>
<circle cx="232.92" cy="321.40" r="2.8" fill="#26467c" stroke="#1f3560" stroke-width="0.6"/>
<circle cx="247.88" cy="324.90" r="2.8" fill="#26467c" stroke="#1f3560" stroke-width="0.6"/>
<circle cx="262.84" cy="326.60" r="2.8" fill="#26467c" stroke="#1f3560" stroke-width="0.6"/>
<rect x="0.5" y="0.5" width="519" height="519" fill="none" stroke="#000" stroke-width="2"/>
</svg></body></html>
